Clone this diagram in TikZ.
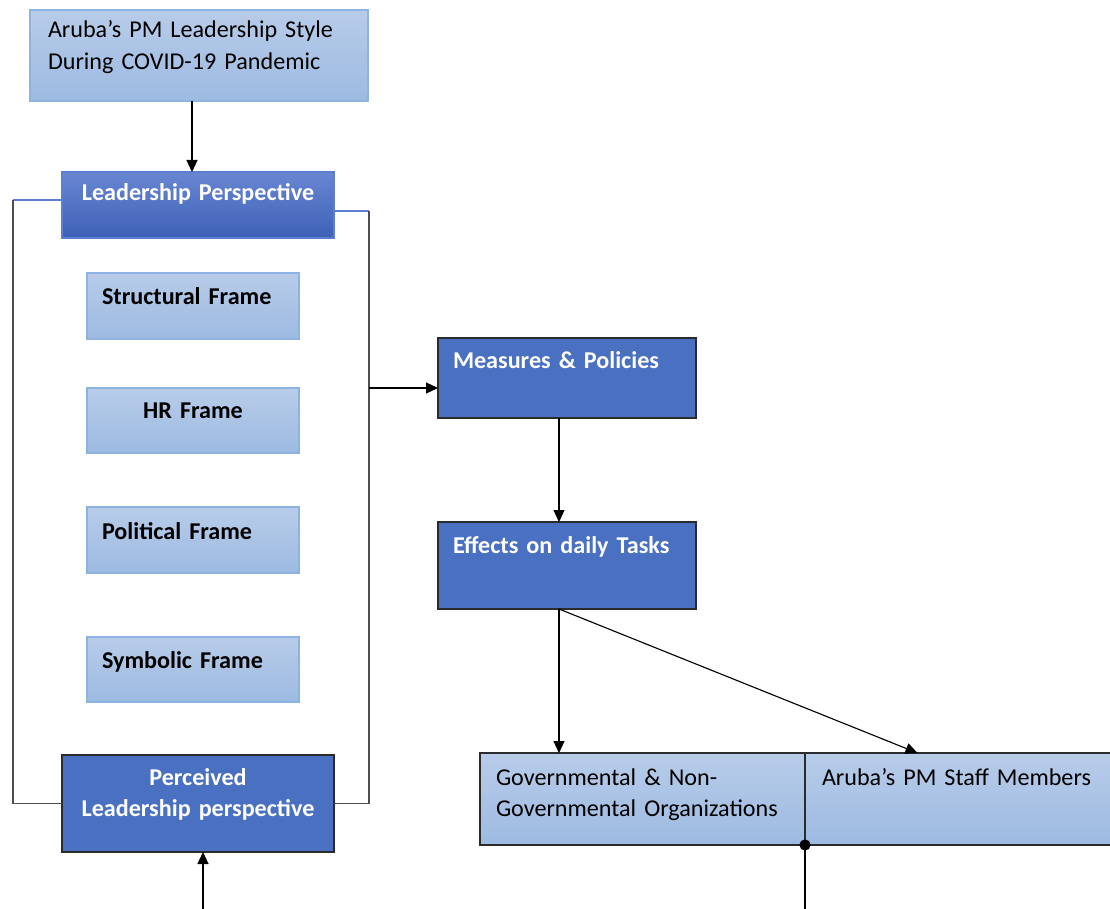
\documentclass[tikz,border=0pt]{standalone}
\usepackage{fontspec}
\setmainfont{Carlito}
\usetikzlibrary{arrows.meta}

\newdimen\pxu
\pxu=0.75pt

\definecolor{lightTop}{HTML}{B8CCE9}
\definecolor{lightBot}{HTML}{9CBAE1}
\definecolor{lightEdge}{HTML}{8DB3E2}
\definecolor{darkFill}{HTML}{4A70C1}
\definecolor{darkEdge}{HTML}{2B2B2B}
\definecolor{lpTop}{HTML}{6886D2}
\definecolor{lpBot}{HTML}{3E60B6}
\definecolor{lpEdge}{HTML}{5B80D0}
\definecolor{loopGrey}{HTML}{4D4D4D}

\tikzset{
  boxbase/.style={anchor=north west, inner ysep=0pt, outer sep=0pt,
    font=\fontsize{18.1}{23.3}\selectfont},
  lightbox/.style={boxbase, top color=lightTop, bottom color=lightBot,
    draw=lightEdge, line width=0.8pt},
  framebox/.style={lightbox, font=\fontsize{18.1}{23.3}\selectfont\bfseries,
    inner xsep=11.25pt, text width=136.5pt},
  groupbox/.style={lightbox, draw=darkEdge, line width=0.9pt},
  darkbox/.style={boxbase, fill=darkFill, draw=darkEdge, line width=0.9pt,
    text=white, font=\fontsize{18.1}{23.3}\selectfont\bfseries},
  lpbox/.style={darkbox, top color=lpTop, bottom color=lpBot, draw=lpEdge},
  conn/.style={draw=black, line width=0.85pt,
    -{Triangle[length=9pt,width=8.25pt]}},
  loopline/.style={draw=loopGrey, line width=0.9pt},
  stubline/.style={draw=lpEdge, line width=0.9pt}
}

\begin{document}
\begin{tikzpicture}[x=0.75pt, y=-0.75pt]
  \useasboundingbox (0,0) rectangle (1110,909);

  % left column
  \node[lightbox, inner xsep=13.5pt, text width=226.5pt, align=left,
    text height=21pt, text depth=47.25pt] (top) at (30,10)
    {Aruba’s PM Leadership Style\\During COVID-19 Pandemic};
  \node[lpbox, inner xsep=6pt, text width=192pt, align=center,
    text height=21.75pt, text depth=27.75pt] (lp) at (62,172)
    {Leadership Perspective};

  \node[framebox, align=left, text height=24pt, text depth=25.5pt]
    (structural) at (87,273) {Structural Frame};
  \node[framebox, align=center, text height=22.5pt, text depth=26.25pt]
    (hr) at (87,388) {HR Frame};
  \node[framebox, align=left, text height=24pt, text depth=25.5pt]
    (political) at (87,507) {Political Frame};
  \node[framebox, align=left, text height=23.25pt, text depth=25.5pt]
    (symbolic) at (87,637) {Symbolic Frame};

  \node[darkbox, inner xsep=6pt, text width=192pt, align=center,
    text height=22.5pt, text depth=50.25pt] (per) at (62,755)
    {Perceived\\Leadership perspective};

  % right column
  \node[darkbox, inner xsep=11.25pt, text width=171pt, align=left,
    text height=22.5pt, text depth=37.5pt] (mp) at (438,338)
    {Measures \& Policies};
  \node[darkbox, inner xsep=11.25pt, text width=171pt, align=left,
    text height=23.25pt, text depth=42pt] (eff) at (438,522)
    {Effects on daily Tasks};

  \node[groupbox, inner xsep=12pt, text width=219.75pt, align=left,
    text height=24pt, text depth=45pt] (gov) at (480,753)
    {Governmental \& Non-\\Governmental Organizations};
  \node[groupbox, inner xsep=12.75pt, text width=213.75pt, align=left,
    text height=24pt, text depth=45pt] (staff) at (805,753)
    {Aruba’s PM Staff Members};

  % free ends at the lower edge
  \coordinate (perin) at (203,909);
  \coordinate (gbot) at (805,909);

  % connectors
  \draw[conn] ([xshift=-5.25pt]top.south) -- ([xshift=-4.5pt]lp.north);

  \draw[stubline] ([yshift=3.75pt]lp.west) -- ++(-49,0) coordinate (ltop);
  \draw[loopline] (ltop) |- (per.west);
  \draw[stubline] ([yshift=-4.5pt]lp.east) -- ++(35,0) coordinate (rtop);
  \draw[loopline] (rtop) |- (per.east);

  \coordinate (mpin) at ([yshift=-7.5pt]mp.west);
  \draw[conn] (rtop |- mpin) -- (mpin);
  \draw[conn] ([xshift=-6pt]mp.south) -- ([xshift=-6pt]eff.north);

  \coordinate (efout) at ([xshift=-6pt]eff.south);
  \draw[conn] (efout) -- (efout |- gov.north);
  \draw[conn] (efout) -- ([xshift=-35.25pt]staff.north);

  \draw[conn] (perin) -- (perin |- per.south);
  \fill (gov.south east) circle[radius=4.2pt];
  \draw[line width=0.85pt] (gov.south east) -- (gbot);
\end{tikzpicture}
\end{document}
